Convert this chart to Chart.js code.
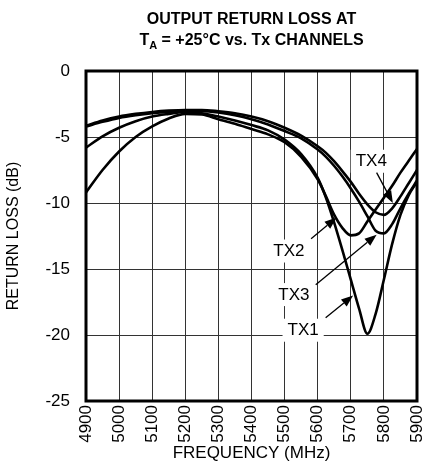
<!DOCTYPE html>
<html>
<head>
<meta charset="utf-8">
<script src="https://cdn.jsdelivr.net/npm/chart.js@4/dist/chart.umd.min.js"></script>
<style>
  html, body { margin: 0; padding: 0; background: #fff; }
  canvas { display: block; }
</style>
</head>
<body>
<canvas id="returnLossChart" width="423" height="464"></canvas>
<script>
const FONT = "'Liberation Sans Narrow', 'Arial Narrow', 'Liberation Sans', Arial, sans-serif";

// frequency points (MHz), shared by all channels
const freqMHz = [4900, 4950, 5000, 5050, 5100, 5150, 5200, 5250, 5300, 5350, 5400, 5450, 5500, 5550,
  5600, 5625, 5650, 5675, 5700, 5725, 5750, 5775, 5800, 5825, 5850, 5875, 5900];

// return loss (dB)
const tx1Loss = [-5.8, -4.95, -4.3, -3.8, -3.45, -3.25, -3.1, -3.2, -3.45, -3.75, -4.1, -4.5, -5.2, -6.3,
  -8.1, -9.6, -11.5, -13.6, -15.8, -18.0, -19.9, -18.4, -15.8, -13.1, -10.9, -9.4, -8.4];
const tx2Loss = [-9.2, -7.5, -6.1, -5.0, -4.2, -3.6, -3.25, -3.3, -3.65, -4.0, -4.4, -4.8, -5.4, -6.5,
  -8.2, -9.5, -10.9, -11.9, -12.45, -12.3, -11.4, -10.5, -9.6, -8.7, -7.7, -6.8, -5.9];
const tx3Loss = [-4.2, -3.85, -3.55, -3.35, -3.2, -3.1, -3.05, -3.05, -3.15, -3.35, -3.65, -4.05, -4.55, -5.1,
  -5.95, -6.5, -7.2, -8.0, -8.9, -9.9, -11.0, -12.1, -12.3, -11.6, -10.4, -9.3, -8.3];
const tx4Loss = [-4.15, -3.75, -3.45, -3.25, -3.1, -3.0, -2.95, -2.95, -3.05, -3.2, -3.45, -3.8, -4.3, -4.9,
  -5.7, -6.2, -6.85, -7.6, -8.4, -9.3, -10.1, -10.7, -10.9, -10.4, -9.5, -8.5, -7.5];

// callout text and arrows, in data units (MHz, dB)
const calloutText = ['TX4', 'TX2', 'TX3', 'TX1'];
const calloutAt = [[5762, -6.8], [5513, -13.6], [5528, -16.9], [5556, -19.6]];
const arrowFrom = [[5778, -7.7], [5580, -12.7], [5594, -16.2], [5624, -18.7]];
const arrowTo = [[5827, -10.0], [5657, -11.1], [5778, -12.4], [5707, -17.0]];

const titleLine1 = 'OUTPUT RETURN LOSS AT';
const titleLine2 = ['T', 'A', ' = +25°C vs. Tx CHANNELS'];

const toPoints = (vals) => freqMHz.map((f, i) => ({ x: f, y: vals[i] }));

const curve = (label, vals) => ({
  label,
  data: toPoints(vals),
  borderColor: '#000',
  borderWidth: 2.6,
  pointRadius: 0,
  fill: false,
  cubicInterpolationMode: 'monotone'
});

const titlePlugin = {
  id: 'chartTitle',
  afterDraw(chart) {
    const { ctx } = chart;
    const cx = (chart.chartArea.left + chart.chartArea.right) / 2;
    ctx.save();
    ctx.fillStyle = '#000';
    ctx.textBaseline = 'alphabetic';
    ctx.font = `bold 16px ${FONT}`;
    ctx.textAlign = 'center';
    ctx.fillText(titleLine1, cx, 24);

    // second line with subscript
    const big = `bold 16px ${FONT}`;
    const small = `bold 11px ${FONT}`;
    ctx.font = big;
    const w1 = ctx.measureText(titleLine2[0]).width;
    const w3 = ctx.measureText(titleLine2[2]).width;
    ctx.font = small;
    const w2 = ctx.measureText(titleLine2[1]).width;
    let x0 = cx - (w1 + w2 + w3) / 2;
    ctx.textAlign = 'left';
    ctx.font = big;
    ctx.fillText(titleLine2[0], x0, 45);
    ctx.font = small;
    ctx.fillText(titleLine2[1], x0 + w1, 49);
    ctx.font = big;
    ctx.fillText(titleLine2[2], x0 + w1 + w2, 45);
    ctx.restore();
  }
};

const calloutPlugin = {
  id: 'callouts',
  beforeDatasetsDraw(chart) {
    const { ctx, scales: { x, y } } = chart;
    ctx.save();
    ctx.font = `17px ${FONT}`;
    ctx.textAlign = 'center';
    ctx.textBaseline = 'middle';
    calloutText.forEach((text, i) => {
      const px = x.getPixelForValue(calloutAt[i][0]);
      const py = y.getPixelForValue(calloutAt[i][1]);
      const w = ctx.measureText(text).width;
      ctx.fillStyle = '#fff';
      ctx.fillRect(px - w / 2 - 5, py - 11, w + 10, 23);
      ctx.fillStyle = '#000';
      ctx.fillText(text, px, py + 1);
    });
    ctx.restore();
  },
  afterDatasetsDraw(chart) {
    const { ctx, scales: { x, y } } = chart;
    ctx.save();
    ctx.strokeStyle = '#000';
    ctx.fillStyle = '#000';
    ctx.lineWidth = 1.3;
    arrowFrom.forEach((from, i) => {
      const x1 = x.getPixelForValue(from[0]), y1 = y.getPixelForValue(from[1]);
      const x2 = x.getPixelForValue(arrowTo[i][0]), y2 = y.getPixelForValue(arrowTo[i][1]);
      const ang = Math.atan2(y2 - y1, x2 - x1);
      const headLen = 12, headHalf = 4.5;
      const bx = x2 - headLen * Math.cos(ang), by = y2 - headLen * Math.sin(ang);
      ctx.beginPath();
      ctx.moveTo(x1, y1);
      ctx.lineTo(bx, by);
      ctx.stroke();
      ctx.beginPath();
      ctx.moveTo(x2, y2);
      ctx.lineTo(bx + headHalf * Math.sin(ang), by - headHalf * Math.cos(ang));
      ctx.lineTo(bx - headHalf * Math.sin(ang), by + headHalf * Math.cos(ang));
      ctx.closePath();
      ctx.fill();
    });

    // heavy frame round the plot
    const a = chart.chartArea;
    ctx.lineWidth = 3;
    ctx.strokeRect(a.left, a.top, a.right - a.left, a.bottom - a.top);
    ctx.restore();
  }
};

new Chart(document.getElementById('returnLossChart').getContext('2d'), {
  type: 'line',
  data: {
    datasets: [
      curve('TX1', tx1Loss),
      curve('TX2', tx2Loss),
      curve('TX3', tx3Loss),
      curve('TX4', tx4Loss)
    ]
  },
  options: {
    responsive: false,
    animation: false,
    layout: { padding: { top: 71, right: 6, left: 0, bottom: 0 } },
    plugins: {
      legend: { display: false },
      tooltip: { enabled: false }
    },
    scales: {
      x: {
        type: 'linear',
        min: 4900,
        max: 5900,
        ticks: {
          stepSize: 100,
          minRotation: 90,
          maxRotation: 90,
          padding: 4,
          color: '#000',
          font: { family: FONT, size: 17 },
          callback: (value) => String(value)
        },
        grid: { color: '#333', lineWidth: 1, drawTicks: false },
        border: { display: false },
        title: {
          display: true,
          text: 'FREQUENCY (MHz)',
          color: '#000',
          font: { family: FONT, size: 17 },
          padding: 0
        },
        afterFit: (scale) => {
          scale.height = 63;
          scale.paddingLeft = 0;
          scale.paddingRight = 0;
        }
      },
      y: {
        min: -25,
        max: 0,
        ticks: {
          stepSize: 5,
          padding: 16,
          color: '#000',
          font: { family: FONT, size: 17 }
        },
        grid: { color: '#333', lineWidth: 1, drawTicks: false },
        border: { display: false },
        title: {
          display: true,
          text: 'RETURN LOSS (dB)',
          color: '#000',
          font: { family: FONT, size: 16 },
          padding: { top: 4, bottom: 0 }
        },
        afterFit: (scale) => {
          scale.width = 86;
        }
      }
    }
  },
  plugins: [titlePlugin, calloutPlugin]
});
</script>
</body>
</html>
